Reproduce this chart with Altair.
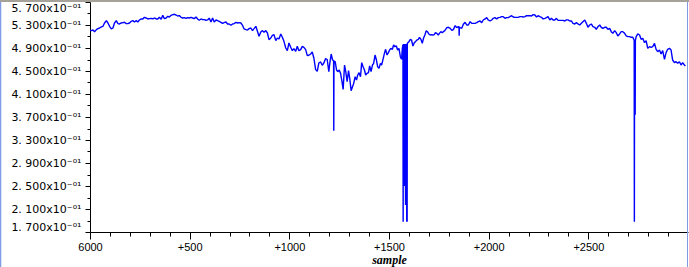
import altair as alt
import pandas as pd

samples = [
    0, 7, 15, 23, 32, 40, 48, 57, 65, 73, 82, 90, 98, 107, 115, 123, 132, 140, 148, 157,
    165, 173, 182, 190, 198, 207, 215, 223, 232, 240, 248, 257, 265, 273, 282, 290, 298, 307, 315, 323,
    332, 340, 348, 357, 365, 373, 382, 390, 398, 407, 415, 423, 432, 440, 448, 457, 465, 473, 482, 490,
    498, 507, 515, 523, 532, 540, 548, 557, 565, 573, 582, 590, 598,
    607, 615, 623, 632, 640, 648, 657, 665, 673, 682, 690, 698, 707, 715, 723, 732, 740, 748, 757, 765,
    773, 782, 790, 798, 807, 815, 823, 832, 840, 848, 857, 865, 873, 882, 890, 898, 907, 915, 923, 932,
    940, 948, 957, 965, 973, 982, 990, 998, 1007, 1015, 1023, 1032, 1040, 1048, 1057, 1065, 1073, 1082,
    1090, 1098, 1107, 1115, 1123, 1132, 1140, 1148, 1157, 1165, 1173, 1182, 1190, 1198,
    1203, 1210, 1217, 1222, 1223, 1224, 1230, 1237, 1243, 1250, 1257, 1263, 1270, 1277, 1283, 1290, 1297,
    1303, 1310, 1317, 1323, 1330, 1337, 1343, 1350, 1357, 1363, 1370, 1377, 1383, 1390, 1397, 1403, 1410,
    1417, 1423, 1430, 1437, 1443, 1450, 1457, 1463, 1470, 1477, 1483, 1490, 1497, 1503, 1510, 1517, 1523,
    1530, 1537, 1543, 1550, 1557, 1563, 1567,
    1570, 1571, 1572, 1573, 1574, 1575, 1576, 1577, 1578, 1579, 1580, 1581, 1582, 1583, 1584, 1585, 1586,
    1587, 1588, 1589, 1590, 1591, 1592,
    1600, 1607, 1613, 1620, 1627, 1633, 1640, 1647, 1653, 1660, 1667, 1673, 1680, 1687, 1693, 1700, 1707,
    1713, 1720, 1727, 1733, 1740, 1747, 1753, 1760, 1767, 1773, 1780,
    1790, 1798, 1807, 1815, 1823, 1832, 1840, 1848, 1851, 1852, 1853, 1857, 1865, 1873, 1882, 1890, 1898,
    1907, 1915, 1923, 1932, 1940, 1948, 1957, 1965, 1973, 1982, 1990, 1998, 2007, 2015, 2023, 2032, 2040,
    2048, 2057, 2065, 2073, 2082, 2090, 2098, 2107, 2115, 2123, 2132, 2140, 2148, 2157, 2165, 2173, 2182,
    2190, 2198, 2207, 2215, 2223, 2232, 2240, 2248, 2257, 2265, 2273, 2282, 2290, 2298, 2307, 2315, 2323,
    2332, 2340, 2348, 2357, 2365, 2373, 2382, 2390, 2398,
    2407, 2415, 2423, 2432, 2440, 2448, 2457, 2465, 2473, 2482, 2490, 2498, 2507, 2515, 2523, 2532, 2540,
    2548, 2557, 2565, 2573, 2582, 2590, 2598, 2607, 2615, 2623, 2632, 2640, 2648, 2657, 2665, 2673, 2682,
    2690, 2698, 2707, 2715, 2723, 2728, 2730, 2731, 2732, 2733, 2734, 2735, 2736, 2740, 2748, 2757, 2765,
    2773, 2782, 2790, 2798, 2807, 2815, 2823, 2832, 2840, 2848, 2857, 2865, 2873, 2882, 2890, 2898, 2907,
    2915, 2923, 2932, 2940, 2948, 2957, 2965, 2973, 2982, 2987,
]

values = [
    0.5208, 0.5202, 0.5213, 0.5184, 0.5219, 0.5237, 0.5248, 0.5266, 0.5277, 0.5335, 0.5376, 0.5335, 0.5277, 0.5231, 0.5248, 0.5335, 0.5376, 0.5324, 0.5318, 0.5335,
    0.5341, 0.5347, 0.5324, 0.5324, 0.5335, 0.5364, 0.5376, 0.5353, 0.5376, 0.5353, 0.5387, 0.5405, 0.5405, 0.5434, 0.5422, 0.5405, 0.5411, 0.5416, 0.5405, 0.5422,
    0.5405, 0.5405, 0.5434, 0.5399, 0.5468, 0.5411, 0.5422, 0.5451, 0.5439, 0.5468, 0.5480, 0.5486, 0.5474, 0.5457, 0.5463, 0.5434, 0.5422, 0.5428, 0.5416, 0.5428,
    0.5422, 0.5434, 0.5422, 0.5411, 0.5439, 0.5405, 0.5382, 0.5405, 0.5393, 0.5393, 0.5382, 0.5388, 0.5420,
    0.5353, 0.5422, 0.5353, 0.5387, 0.5376, 0.5364, 0.5347, 0.5329, 0.5341, 0.5353, 0.5318, 0.5318, 0.5295, 0.5318, 0.5324, 0.5347, 0.5335, 0.5341, 0.5335, 0.5295,
    0.5231, 0.5219, 0.5213, 0.5237, 0.5248, 0.5202, 0.5237, 0.5277, 0.5190, 0.5103, 0.5179, 0.5202, 0.5173, 0.5202, 0.5161, 0.5045, 0.5074, 0.5121, 0.5132, 0.5028,
    0.5074, 0.5057, 0.5144, 0.5086, 0.5016, 0.4900, 0.4854, 0.4987, 0.4912, 0.4854, 0.4889, 0.4842, 0.4929, 0.4854, 0.4871, 0.4929, 0.4912, 0.4871,
    0.4767, 0.4773, 0.4796, 0.4831, 0.4726, 0.4524, 0.4495, 0.4639, 0.4657, 0.4599, 0.4639, 0.4715, 0.4700, 0.4490,
    0.4633, 0.4796, 0.4691, 0.4680, 0.3462, 0.4670, 0.4662, 0.4517, 0.4488, 0.4517, 0.4459, 0.4343, 0.4181, 0.4604, 0.4488, 0.4314, 0.4506,
    0.4372, 0.4158, 0.4227, 0.4285, 0.4401, 0.4343, 0.4430, 0.4471, 0.4401, 0.4645, 0.4575, 0.4517, 0.4430, 0.4459, 0.4471, 0.4587, 0.4488,
    0.4604, 0.4633, 0.4778, 0.4691, 0.4575, 0.4546, 0.4633, 0.4604, 0.4703, 0.4807, 0.4877, 0.4778, 0.4819, 0.4865, 0.4894, 0.4877, 0.4952,
    0.4923, 0.4935, 0.4865, 0.4894, 0.4749, 0.4703, 0.4894,
    0.4960, 0.1880, 0.4950, 0.3430, 0.4970, 0.3430, 0.4960, 0.2500, 0.4950, 0.2500, 0.4970, 0.2500, 0.4960, 0.2170, 0.4950, 0.2170, 0.4970,
    0.2170, 0.4960, 0.1880, 0.4970, 0.1880, 0.4981,
    0.5010, 0.5051, 0.5039, 0.4935, 0.4993, 0.5010, 0.5039, 0.5051, 0.5085, 0.5051, 0.4981, 0.5068, 0.5126, 0.5201, 0.5184, 0.5143, 0.5126,
    0.5132, 0.5126, 0.5132, 0.5167, 0.5155, 0.5126, 0.5155, 0.5184, 0.5167, 0.5184, 0.5201,
    0.5254, 0.5260, 0.5242, 0.5207, 0.5219, 0.5289, 0.5254, 0.5271, 0.5265, 0.5115, 0.5262, 0.5254, 0.5242, 0.5312, 0.5347, 0.5300, 0.5300,
    0.5358, 0.5329, 0.5329, 0.5329, 0.5341, 0.5358, 0.5370, 0.5341, 0.5387, 0.5405, 0.5428, 0.5387, 0.5370, 0.5387, 0.5416, 0.5428, 0.5405,
    0.5428, 0.5433, 0.5445, 0.5445, 0.5416, 0.5428, 0.5428, 0.5445, 0.5462, 0.5439, 0.5433, 0.5433, 0.5433, 0.5445, 0.5445, 0.5439, 0.5445,
    0.5462, 0.5462, 0.5462, 0.5457, 0.5480, 0.5474, 0.5439, 0.5462, 0.5445, 0.5433, 0.5405, 0.5416, 0.5428, 0.5445, 0.5387, 0.5416, 0.5387,
    0.5387, 0.5416, 0.5381, 0.5381, 0.5381, 0.5381, 0.5370, 0.5390, 0.5390,
    0.5370, 0.5370, 0.5329, 0.5318, 0.5341, 0.5318, 0.5300, 0.5329, 0.5358, 0.5387, 0.5329, 0.5260, 0.5300, 0.5318, 0.5271, 0.5260, 0.5225,
    0.5271, 0.5300, 0.5260, 0.5242, 0.5260, 0.5260, 0.5225, 0.5242, 0.5184, 0.5155, 0.5202, 0.5167, 0.5109, 0.5144, 0.5184, 0.5184, 0.5155,
    0.5109, 0.5097, 0.5097, 0.5086, 0.5086, 0.5051, 0.5030, 0.1880, 0.5030, 0.3740, 0.5030, 0.3740, 0.5030, 0.5097, 0.5144, 0.5126, 0.5051,
    0.5068, 0.4993, 0.5028, 0.4894, 0.4923, 0.4912, 0.4923, 0.4981, 0.4877, 0.4836, 0.4865, 0.4796, 0.4854, 0.4703, 0.4819, 0.4877, 0.4894,
    0.4865, 0.4691, 0.4645, 0.4662, 0.4633, 0.4662, 0.4604, 0.4645, 0.4604, 0.4587,
]

x_major = [0, 500, 1000, 1500, 2000, 2500]
x_minor = [v for v in range(100, 3000, 100) if v % 500 != 0]
y_major = [round(0.17 + 0.04 * i, 2) for i in range(11)]
y_minor = [round(0.19 + 0.04 * i, 2) for i in range(10)]

df = pd.DataFrame({"sample": samples, "value": values})

x_scale = alt.Scale(domain=[0, 3000], nice=False, zero=False)
y_scale = alt.Scale(domain=[0.17, 0.57], nice=False, zero=False)

main = alt.Chart(df).mark_line(
    color="#0000ff", strokeWidth=1.4, strokeJoin="bevel", clip=True
).encode(
    x=alt.X(
        "sample:Q",
        scale=x_scale,
        axis=alt.Axis(
            orient="bottom",
            values=x_major,
            labelExpr="datum.value == 0 ? '6000' : '+' + datum.value",
            tickSize=7,
            tickColor="black",
            domainColor="black",
            labelColor="black",
            labelFont="Liberation Sans",
            labelFontSize=11,
            labelPadding=2,
            labelFlush=False,
            grid=False,
            title="sample",
            titleFont="Liberation Serif",
            titleFontStyle="italic",
            titleFontWeight="bold",
            titleFontSize=12,
            titleColor="black",
            titlePadding=2,
        ),
    ),
    y=alt.Y(
        "value:Q",
        scale=y_scale,
        axis=alt.Axis(
            orient="left",
            values=y_major,
            labelExpr="replace(format(datum.value * 10, '.3f'), '.', '. ') + 'x10⁻⁰¹'",
            tickSize=5,
            tickColor="black",
            domainColor="black",
            labelColor="black",
            labelFont="DejaVu Sans",
            labelFontSize=11,
            labelPadding=4,
            labelFlush=True,
            grid=False,
            title=None,
        ),
    ),
)

minor = alt.Chart(df).mark_line(strokeOpacity=0).encode(
    x=alt.X(
        "sample:Q",
        scale=x_scale,
        axis=alt.Axis(
            orient="bottom",
            values=x_minor, tickSize=4, tickColor="black", labels=False,
            domain=False, grid=False, title=None,
        ),
    ),
    y=alt.Y(
        "value:Q",
        scale=y_scale,
        axis=alt.Axis(
            orient="left",
            values=y_minor, tickSize=3, tickColor="black", labels=False,
            domain=False, grid=False, title=None,
        ),
    ),
)

frame_df = pd.DataFrame({"k": [0]})
top_bar = alt.Chart(frame_df).mark_rule(color="#a6a29a", strokeWidth=2).encode(
    x=alt.value(-90), x2=alt.value(600), y=alt.value(-1)
)
left_edge = alt.Chart(frame_df).mark_rule(color="#7f9be6", strokeWidth=1.5).encode(
    x=alt.value(-89.5), y=alt.value(0), y2=alt.value(265)
)
right_edge = alt.Chart(frame_df).mark_rule(color="#7f9be6", strokeWidth=1).encode(
    x=alt.value(597.5), y=alt.value(0), y2=alt.value(265)
)

chart = alt.layer(main, minor, top_bar, left_edge, right_edge).resolve_axis(
    x="independent", y="independent"
).properties(
    width=598,
    height=230,
    autosize=alt.AutoSizeParams(type="none"),
    padding={"left": 90, "top": 2, "right": 1, "bottom": 35},
    background="white",
).configure_view(strokeWidth=0)

chart.save("out.html", embed_options={"renderer": "svg", "actions": False})
